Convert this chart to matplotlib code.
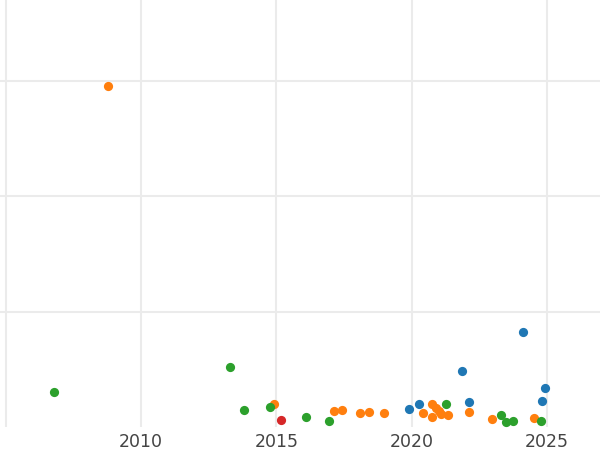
import matplotlib
matplotlib.use("Agg")
import matplotlib.pyplot as plt

# values (year, value) per group
blue_year = [2019.91, 2020.26, 2021.86, 2022.13, 2024.14, 2024.92, 2024.83]
blue_val = [15.8, 20.1, 48.7, 21.6, 82.7, 33.9, 22.7]

orange_year = [2008.78, 2014.93, 2017.14, 2017.43, 2018.08, 2018.42, 2018.99,
               2020.41, 2020.75, 2020.74, 2020.91, 2021.03, 2021.09, 2021.34,
               2022.12, 2022.96, 2024.52]
orange_val = [295.7, 19.8, 14.0, 14.9, 12.3, 12.6, 11.7,
              11.9, 19.8, 8.4, 16.2, 13.6, 11.0, 10.6,
              13.2, 6.7, 7.7]

green_year = [2006.76, 2013.29, 2013.79, 2014.78, 2016.09, 2016.93,
              2021.29, 2023.30, 2023.51, 2023.76, 2024.77]
green_val = [30.2, 52.1, 14.9, 17.7, 8.6, 5.1, 20.1, 10.3, 4.2, 5.1, 5.4]

red_year = [2015.18]
red_val = [6.2]

xticks = [2005, 2010, 2015, 2020, 2025]
xtick_labels = ["", "2010", "2015", "2020", "2025"]
yticks = [100, 200, 300]

fig = plt.figure(figsize=(6, 4.5), dpi=100)
ax = fig.add_axes([0, 0.0511, 1, 0.9489])

groups = [
    (blue_year, blue_val, "#1f77b4"),
    (orange_year, orange_val, "#ff7f0e"),
    (green_year, green_val, "#2ca02c"),
    (red_year, red_val, "#d62728"),
]
for xs, ys, c in groups:
    ax.scatter(xs, ys, s=44, color=c, linewidths=0, zorder=3)

ax.set_xlim(2004.78, 2026.97)
ax.set_ylim(0, 369.9)
ax.set_xticks(xticks)
ax.set_xticklabels(xtick_labels)
ax.set_yticks(yticks)
ax.set_yticklabels([])
ax.grid(True, color="#ebebeb", linewidth=1.5)
ax.set_axisbelow(True)
ax.tick_params(length=0, labelsize=12.5, labelcolor="#444444", pad=4)
for s in ax.spines.values():
    s.set_visible(False)

fig.savefig("out.png", dpi=100)
